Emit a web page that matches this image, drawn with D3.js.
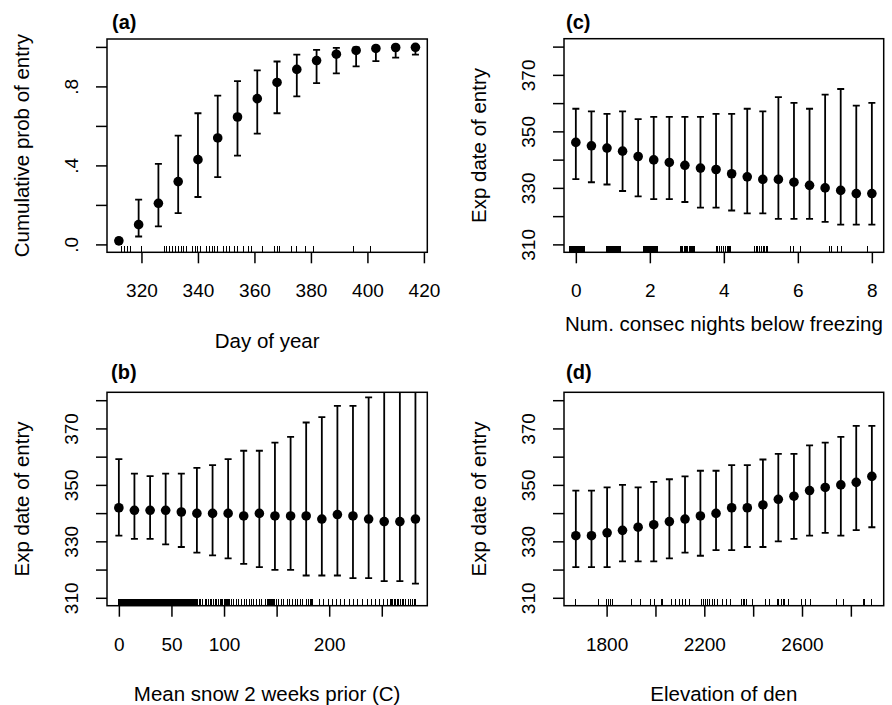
<!DOCTYPE html>
<html>
<head>
<meta charset="utf-8">
<script src="https://cdn.jsdelivr.net/npm/d3@7"></script>
<style>
  body { margin: 0; background: #fff; }
  svg { display: block; font-family: "Liberation Sans", Arial, Helvetica, sans-serif; }
</style>
</head>
<body>
<div id="chart"></div>
<script>
// ---- (a) cumulative probability by day of year
var dayX   = [312, 319, 326, 333, 340, 347, 354, 361, 368, 375, 382, 389, 396, 403, 410, 417];
var dayFit = [0.018, 0.10, 0.208, 0.318, 0.429, 0.539, 0.645, 0.738, 0.820, 0.886, 0.931, 0.963, 0.982, 0.992, 0.997, 0.998];
var dayLo  = [0.008, 0.04, 0.091, 0.158, 0.240, 0.341, 0.449, 0.561, 0.664, 0.750, 0.817, 0.866, 0.901, 0.928, 0.946, 0.961];
var dayHi  = [0.030, 0.227, 0.408, 0.551, 0.664, 0.753, 0.827, 0.881, 0.926, 0.961, 0.985, 0.995, 0.998, 1.0, 1.0, 1.0];
var dayRug = [313, 314, 315, 316, 320, 328, 329, 330, 331, 332, 333, 334, 335, 336, 338, 339, 340, 341,
              343, 344, 345, 346, 347, 349, 350, 351, 353, 354, 356, 358, 359, 363, 367, 368, 369,
              373, 375, 378, 381, 395, 401];
var dayTicks = [320, 340, 360, 380, 400, 420];
var probTicks = [0, 0.2, 0.4, 0.6, 0.8, 1.0];
var probLabels = [".0", "", ".4", "", ".8", ""];

// ---- (c) consecutive nights below freezing
var nightsX   = [0, 0.421, 0.842, 1.263, 1.684, 2.105, 2.526, 2.947, 3.368, 3.789,
                 4.211, 4.632, 5.053, 5.474, 5.895, 6.316, 6.737, 7.158, 7.579, 8];
var nightsFit = [346.1, 344.9, 344.1, 343.0, 341.1, 339.9, 339.0, 338.0, 337.0, 336.5,
                 335.0, 333.9, 333.0, 333.0, 332.0, 330.9, 330.0, 329.1, 328.0, 328.0];
var nightsLo  = [333.1, 332.0, 331.2, 328.9, 327.0, 326.0, 326.0, 325.0, 323.0, 323.0,
                 322.0, 321.0, 321.0, 319.0, 319.0, 319.0, 318.0, 317.0, 317.0, 317.0];
var nightsHi  = [358.0, 357.1, 356.2, 357.1, 354.3, 355.1, 355.1, 355.1, 355.1, 356.2,
                 356.2, 358.0, 357.1, 362.1, 360.1, 358.0, 363.0, 365.0, 359.1, 360.1];
var nightsRug = [-0.16, -0.135, -0.11, -0.085, -0.06, -0.035, -0.01, 0.015, 0.04, 0.065, 0.09, 0.115, 0.14, 0.165, 0.19, 0.215, 0.24,
                 0.82, 0.845, 0.87, 0.895, 0.92, 0.945, 0.97, 0.995, 1.02, 1.045, 1.07, 1.095, 1.12, 1.145, 1.17, 1.195, 1.22,
                 1.82, 1.845, 1.87, 1.895, 1.92, 1.945, 1.97, 1.995, 2.02, 2.045, 2.07, 2.095, 2.12, 2.145, 2.17, 2.195, 2.22,
                 2.83, 2.86, 2.88, 2.93, 2.96, 2.99, 3.03, 3.06, 3.09, 3.12, 3.15, 3.18, 3.22,
                 3.81, 3.84, 3.88, 3.95, 3.98, 4.05, 4.09, 4.12, 4.16, 4.19,
                 4.83, 4.87, 4.92, 4.96, 5.01, 5.06, 5.10, 5.15, 5.19,
                 5.79, 5.88, 6.06, 6.85, 6.92, 7.08, 7.17, 7.88];
var nightsTicks = [0, 2, 4, 6, 8];

// ---- (b) mean snow 2 weeks prior
var snowX   = [0, 14.8, 29.7, 44.5, 59.4, 74.2, 89.1, 103.9, 118.7, 133.6,
               148.4, 163.3, 178.1, 193.0, 207.8, 222.6, 237.5, 252.3, 267.2, 282.0];
var snowFit = [341.9, 341.0, 341.0, 341.0, 340.4, 339.9, 339.9, 339.9, 339.0, 339.9,
               339.0, 339.0, 339.0, 337.9, 339.5, 339.0, 337.9, 337.0, 337.0, 337.9];
var snowLo  = [332.0, 330.9, 330.9, 328.9, 328.0, 326.0, 325.0, 324.0, 322.0, 320.9,
               319.9, 319.9, 317.9, 317.9, 317.9, 317.0, 317.0, 315.9, 315.9, 315.0];
var snowHi  = [359.1, 354.0, 353.1, 354.0, 354.0, 356.0, 357.0, 359.1, 362.1, 362.1,
               365.0, 367.0, 372.1, 374.0, 378.0, 378.0, 381.0, 386.0, 387.0, 388.0];
var snowRug = [0, 0.5, 1, 1.5, 2, 2.5, 3, 3.5, 4, 4.5, 5, 5.5, 6, 6.5, 7, 7.5, 8, 8.5, 9, 9.5,
               10, 10.5, 11, 11.5, 12, 12.5, 13, 13.5, 14, 14.5, 15, 15.5, 16, 16.5, 17, 17.5, 18, 18.5, 19, 19.5,
               20, 20.5, 21, 21.5, 22, 22.5, 23, 23.5, 24, 24.5, 25, 25.5, 26, 26.5, 27, 27.5, 28, 28.5, 29, 29.5,
               30, 30.5, 31, 31.5, 32, 32.5, 33, 33.5, 34, 34.5, 35, 35.5, 36, 36.5, 37, 37.5, 38, 38.5, 39, 39.5,
               40, 40.5, 41, 41.5, 42, 42.5, 43, 43.5, 44, 44.5, 45, 45.5, 46, 46.5, 47, 47.5, 48, 48.5, 49, 49.5,
               50, 50.5, 51, 51.5, 52, 52.5, 53, 53.5, 54, 54.5, 55, 55.5, 56, 56.5, 57, 57.5, 58, 58.5, 59, 59.5,
               60, 60.5, 61, 61.5, 62, 62.5, 63, 63.5, 64, 64.5, 65, 65.5, 66, 66.5, 67, 67.5, 68, 68.5, 69, 69.5,
               70, 70.5, 71, 71.5, 72, 72.5, 73, 73.5, 74,
               75, 77, 78, 80, 82, 83, 85, 87, 88, 90, 92, 93, 95, 97,
               98, 99, 100, 101, 102, 103, 104, 105,
               107, 109, 112, 114, 117, 119, 121, 124, 126, 128, 131, 134, 136, 139, 141,
               142, 143, 144, 145, 146, 147, 148,
               150, 152, 155, 157, 160, 162, 165, 168, 170, 173, 175, 178, 180, 182, 183, 184,
               191, 195, 199, 203, 207, 211, 215, 219, 223, 227, 232, 236, 240, 244, 248, 252, 255, 258,
               259, 260, 262, 263, 265, 266, 268, 270, 271, 273, 275, 277, 279, 281, 282];
var snowTicks = [0, 50, 100, 150, 200, 250];
var snowLabels = ["0", "50", "100", "", "200", ""];

// ---- (d) elevation of den
var elevX   = [1674, 1738, 1802, 1865, 1929, 1993, 2057, 2121, 2184, 2248,
               2312, 2376, 2440, 2503, 2567, 2631, 2695, 2759, 2822, 2886];
var elevFit = [332.0, 332.0, 333.0, 333.9, 335.0, 335.9, 337.0, 337.9, 339.0, 339.9,
               341.9, 341.9, 342.9, 344.9, 346.0, 348.0, 349.1, 350.0, 350.9, 353.0];
var elevLo  = [320.9, 320.9, 320.9, 322.9, 322.9, 322.9, 324.0, 326.0, 324.9, 326.9,
               326.9, 328.0, 328.0, 330.0, 330.9, 332.0, 333.0, 332.0, 334.0, 335.0];
var elevHi  = [348.0, 348.0, 349.1, 350.0, 349.1, 351.1, 352.0, 353.0, 355.0, 355.0,
               357.0, 357.0, 359.0, 361.0, 361.0, 364.0, 365.0, 367.0, 370.9, 370.9];
var elevRug = [1674, 1765, 1800, 1807, 1814, 1823, 1903, 1940, 1981, 1996, 2025, 2027, 2064, 2081, 2098,
               2112, 2123, 2140, 2190, 2197, 2205, 2214, 2222, 2232, 2241, 2252, 2275, 2289, 2307,
               2353, 2359, 2366, 2373, 2397, 2449, 2466, 2499, 2505, 2515, 2523, 2530, 2546,
               2597, 2615, 2636, 2740, 2770, 2853, 2857, 2886];
var elevTicks = [1800, 2000, 2200, 2400, 2600, 2800];
var elevLabels = ["1800", "", "2200", "", "2600", ""];

// shared y axis for the expected-date panels
var expTicks = [310, 320, 330, 340, 350, 360, 370, 380];
var expLabels = ["310", "", "330", "", "350", "", "370", ""];

var svg = d3.select("#chart")
  .append("svg")
  .attr("width", 892)
  .attr("height", 705);

// R style: pad the range by 4% on each side
function pad4(ext) {
  var d = (ext[1] - ext[0]) * 0.04;
  return [ext[0] - d, ext[1] + d];
}

var clipId = 0;

function drawPanel(p) {
  var box = p.box;
  var x = d3.scaleLinear().domain(pad4(d3.extent(p.x))).range([box.l, box.r]);
  var y = d3.scaleLinear().domain(pad4(p.yBase)).range([box.b, box.t]);
  var g = svg.append("g");

  clipId++;
  svg.append("clipPath").attr("id", "clip" + clipId)
    .append("rect")
    .attr("x", box.l).attr("y", box.t)
    .attr("width", box.r - box.l).attr("height", box.b - box.t);

  // x axis, ticks pointing out
  var xAxis = d3.axisBottom(x)
    .tickValues(p.xTicks)
    .tickSize(11)
    .tickPadding(8)
    .tickFormat(function(d, i) { return p.xLabels ? p.xLabels[i] : d; });
  g.append("g")
    .attr("transform", "translate(0," + box.b + ")")
    .call(xAxis)
    .call(function(a) {
      a.select(".domain").remove();
      a.selectAll("line").attr("stroke", "#000").attr("stroke-width", 1.5);
      a.selectAll("text")
        .attr("font-size", "19px")
        .attr("fill", "#000")
        .attr("dy", "0")
        .attr("y", 38.5)
        .attr("dominant-baseline", "central");
    });

  // y axis, labels rotated parallel to the axis
  var yAxis = d3.axisLeft(y)
    .tickValues(p.yTicks)
    .tickSize(11)
    .tickFormat(function(d, i) { return p.yLabels[i]; });
  g.append("g")
    .attr("transform", "translate(" + box.l + ",0)")
    .call(yAxis)
    .call(function(a) {
      a.select(".domain").remove();
      a.selectAll("line").attr("stroke", "#000").attr("stroke-width", 1.5);
      a.selectAll("text")
        .attr("font-size", "19px")
        .attr("fill", "#000")
        .attr("x", null).attr("dy", null)
        .attr("text-anchor", "middle")
        .attr("dominant-baseline", "central")
        .attr("transform", "translate(-35.5,0)rotate(-90)");
    });

  // rug along the bottom
  var rugH = (box.b - box.t) * 0.03;
  g.append("g")
    .attr("clip-path", "url(#clip" + clipId + ")")
    .attr("shape-rendering", "crispEdges")
    .selectAll("line")
    .data(p.rug)
    .enter()
    .append("line")
      .attr("x1", function(d) { return x(d); })
      .attr("x2", function(d) { return x(d); })
      .attr("y1", box.b)
      .attr("y2", box.b - rugH)
      .attr("stroke", "#000")
      .attr("stroke-width", 1);

  // error bars with flat caps
  var bars = g.append("g")
    .attr("clip-path", "url(#clip" + clipId + ")")
    .attr("stroke", "#000")
    .attr("stroke-width", 1.8);
  var idx = d3.range(p.x.length);
  bars.selectAll(".bar").data(idx).enter().append("line")
    .attr("x1", function(i) { return x(p.x[i]); })
    .attr("x2", function(i) { return x(p.x[i]); })
    .attr("y1", function(i) { return y(p.lo[i]); })
    .attr("y2", function(i) { return y(p.hi[i]); });
  bars.selectAll(".capLo").data(idx).enter().append("line")
    .attr("x1", function(i) { return x(p.x[i]) - 3.5; })
    .attr("x2", function(i) { return x(p.x[i]) + 3.5; })
    .attr("y1", function(i) { return y(p.lo[i]); })
    .attr("y2", function(i) { return y(p.lo[i]); });
  bars.selectAll(".capHi").data(idx).enter().append("line")
    .attr("x1", function(i) { return x(p.x[i]) - 3.5; })
    .attr("x2", function(i) { return x(p.x[i]) + 3.5; })
    .attr("y1", function(i) { return y(p.hi[i]); })
    .attr("y2", function(i) { return y(p.hi[i]); });

  // points
  g.append("g").selectAll("circle")
    .data(idx)
    .enter()
    .append("circle")
      .attr("cx", function(i) { return x(p.x[i]); })
      .attr("cy", function(i) { return y(p.fit[i]); })
      .attr("r", 4.8)
      .attr("fill", "#000");

  // frame
  g.append("rect")
    .attr("x", box.l).attr("y", box.t)
    .attr("width", box.r - box.l).attr("height", box.b - box.t)
    .attr("fill", "none")
    .attr("stroke", "#000")
    .attr("stroke-width", 1.5);

  // panel letter
  g.append("text")
    .attr("x", p.letterX)
    .attr("y", box.t - p.letterDy)
    .attr("dominant-baseline", "central")
    .style("font-weight", "bold")
    .style("font-size", "20px")
    .text(p.letter);

  // axis titles
  g.append("text")
    .attr("x", (box.l + box.r) / 2)
    .attr("y", box.b + p.xTitleDy)
    .attr("text-anchor", "middle")
    .attr("dominant-baseline", "central")
    .style("font-size", "20.5px")
    .text(p.xTitle);
  g.append("text")
    .attr("transform", "translate(" + (box.l - 85.5) + "," + ((box.t + box.b) / 2) + ")rotate(-90)")
    .attr("text-anchor", "middle")
    .attr("dominant-baseline", "central")
    .style("font-size", "20.5px")
    .text(p.yTitle);
}

drawPanel({
  box: {l: 107, r: 427.3, t: 39, b: 252.3},
  x: dayX, fit: dayFit, lo: dayLo, hi: dayHi, rug: dayRug,
  yBase: [0, 1], xTicks: dayTicks, yTicks: probTicks, yLabels: probLabels,
  letter: "(a)", letterX: 112, letterDy: 17.5,
  xTitle: "Day of year", xTitleDy: 88.5, yTitle: "Cumulative prob of entry"
});

drawPanel({
  box: {l: 564, r: 883.7, t: 38.7, b: 252.3},
  x: nightsX, fit: nightsFit, lo: nightsLo, hi: nightsHi, rug: nightsRug,
  yBase: [310, 380], xTicks: nightsTicks, yTicks: expTicks, yLabels: expLabels,
  letter: "(c)", letterX: 566, letterDy: 17.2,
  xTitle: "Num. consec nights below freezing", xTitleDy: 71, yTitle: "Exp date of entry"
});

drawPanel({
  box: {l: 107, r: 427.3, t: 392.3, b: 605.7},
  x: snowX, fit: snowFit, lo: snowLo, hi: snowHi, rug: snowRug,
  yBase: [310, 380], xTicks: snowTicks, xLabels: snowLabels, yTicks: expTicks, yLabels: expLabels,
  letter: "(b)", letterX: 111, letterDy: 20.6,
  xTitle: "Mean snow 2 weeks prior (C)", xTitleDy: 87.5, yTitle: "Exp date of entry"
});

drawPanel({
  box: {l: 564, r: 883.7, t: 392.3, b: 605.7},
  x: elevX, fit: elevFit, lo: elevLo, hi: elevHi, rug: elevRug,
  yBase: [310, 380], xTicks: elevTicks, xLabels: elevLabels, yTicks: expTicks, yLabels: expLabels,
  letter: "(d)", letterX: 566, letterDy: 20.6,
  xTitle: "Elevation of den", xTitleDy: 87.5, yTitle: "Exp date of entry"
});
</script>
</body>
</html>
